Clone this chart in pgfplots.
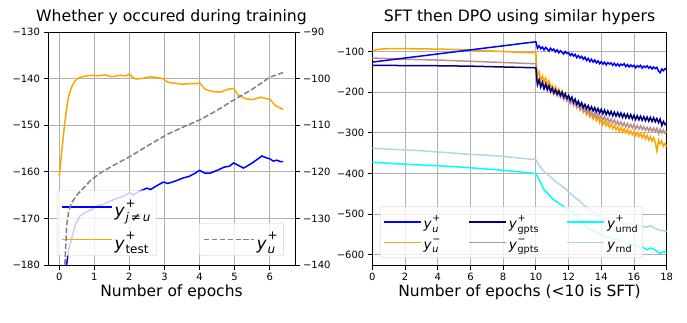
\documentclass[border=0pt]{standalone}
\usepackage{fontspec}
\setmainfont{DejaVu Sans}
\usepackage{pgfplots}
\pgfplotsset{compat=1.18}

\definecolor{mplorange}{RGB}{255,165,0}
\definecolor{navy}{RGB}{0,0,128}
\definecolor{rosybrown}{RGB}{188,143,143}
\definecolor{lightblue}{RGB}{173,216,230}
\definecolor{mplcyan}{RGB}{0,255,255}
\definecolor{mplblue}{RGB}{0,0,255}
\definecolor{gridgray}{RGB}{176,176,176}
\definecolor{mplgray}{RGB}{128,128,128}
\definecolor{legborder}{RGB}{204,204,204}

% y with stacked super/subscript
\newcommand{\ysym}[5]{\textit{y}\kern0.04em\begingroup\fontsize{#1}{#1}\selectfont
\setbox0=\hbox{#4}\setbox2=\hbox{#5}%
\dimen0=\wd0 \ifdim\wd2>\dimen0 \dimen0=\wd2\fi
\rlap{\raisebox{#2}{\box0}}\rlap{\raisebox{#3}{\box2}}\kern\dimen0\endgroup}
\newcommand{\yL}[2]{\rule[-8pt]{0pt}{29pt}\ysym{12}{9.5pt}{-4.5pt}{#1}{#2}}
\newcommand{\yR}[2]{\rule[-6pt]{0pt}{21pt}\ysym{9.6}{7pt}{-3.5pt}{#1}{#2}}

\pgfplotsset{
  mpl/.style={
    scale only axis,
    axis line style={line width=0.8pt},
    every tick/.style={black, line width=0.8pt},
    tick align=outside,
    major tick length=4.5pt,
    ticklabel style={font=\fontsize{10}{12}\selectfont},
    /pgf/number format/assume math mode=true,
    title style={font=\fontsize{15.7}{17}\selectfont, at={(0.5,1)}, anchor=base, yshift=5pt},
    xlabel style={font=\fontsize{15.5}{17}\selectfont, at={(0.5,0)}, anchor=north, inner sep=0pt, yshift=-19.5pt},
    legend cell align=left,
  }
}

\begin{document}
\begin{tikzpicture}[x=1pt,y=1pt]
\path[use as bounding box] (0,0) rectangle (687,322);

% ---------------- left plot, left y axis ----------------
\begin{axis}[mpl,
  at={(48pt,57pt)}, anchor=south west,
  width=247pt, height=233pt,
  xmin=-0.32, xmax=6.72, ymin=-180, ymax=-130,
  xtick={0,1,2,3,4,5,6},
  ytick={-180,-170,-160,-150,-140,-130},
  yticklabels={−180,−170,−160,−150,−140,−130},
  tick pos=left,
  grid=major, grid style={gridgray, line width=0.8pt},
  title={Whether y occured during training},
  xlabel={Number of epochs},
  legend image code/.code={\draw[#1] (0pt,0pt) -- (36pt,0pt); \path (0pt,0pt) -- (50pt,0pt);},
  legend style={at={(0.036,0.039)}, anchor=south west, draw=legborder,
    fill=white, fill opacity=0.8, text opacity=1, rounded corners=2pt,
    font=\fontsize{17}{17}\selectfont, row sep=6pt, inner xsep=4pt, inner ysep=3pt},
]
\addplot[mplblue, line width=1.5pt] coordinates {
(0.12,-195) (0.21,-180) (0.27,-176.5) (0.35,-174.5) (0.45,-171.5) (0.59,-169.5) (0.75,-168.7)
(0.93,-168.1) (1.1,-167.2) (1.25,-167) (1.45,-166.3) (1.6,-165.8) (1.8,-165.3) (2.02,-164.5)
(2.1,-165) (2.25,-164.3) (2.5,-163.5) (2.6,-163.8) (2.8,-162.9) (2.97,-162.2) (3.1,-162.5)
(3.3,-162) (3.54,-161.3) (3.7,-161) (3.85,-160.4) (4.0,-159.7) (4.15,-160.3) (4.3,-160.3)
(4.5,-159.7) (4.7,-159) (4.85,-158.8) (4.97,-158.1) (5.1,-158.6) (5.25,-159.2) (5.35,-158.8)
(5.5,-158.1) (5.65,-157.3) (5.78,-156.6) (5.9,-157) (6.0,-157.2) (6.1,-157.7) (6.2,-157.5)
(6.3,-157.8) (6.38,-157.8)};
\addlegendentry{\yL{+}{\textit{j}\,≠\,\textit{u}}}
\addplot[mplorange, line width=1.5pt] coordinates {
(0,-161) (0.08,-155) (0.15,-150) (0.22,-146) (0.26,-144) (0.35,-141.8) (0.45,-140.5)
(0.54,-139.9) (0.7,-139.5) (0.9,-139.3) (1.1,-139.4) (1.3,-139.2) (1.5,-139.6) (1.7,-139.3)
(1.9,-139.4) (2.0,-139.0) (2.1,-139.8) (2.2,-140.1) (2.4,-139.9) (2.6,-139.6) (2.8,-139.8)
(2.95,-140.0) (3.1,-140.8) (3.3,-141.0) (3.5,-141.2) (3.7,-141.1) (3.9,-141.1) (4.0,-140.9)
(4.1,-141.8) (4.16,-142.3) (4.4,-142.8) (4.6,-142.9) (4.8,-142.3) (4.97,-142.1) (5.1,-143.5)
(5.3,-144.3) (5.5,-144.5) (5.75,-144.0) (5.9,-144.3) (6.0,-144.4) (6.16,-145.8) (6.3,-146.3)
(6.38,-146.6)};
\addlegendentry{\yL{+}{test}}
\end{axis}

% ---------------- left plot, right y axis ----------------
\begin{axis}[mpl,
  at={(48pt,57pt)}, anchor=south west,
  width=247pt, height=233pt,
  xmin=-0.32, xmax=6.72, ymin=-140, ymax=-90,
  axis x line=none, axis y line*=right,
  ytick={-140,-130,-120,-110,-100,-90},
  yticklabels={−140,−130,−120,−110,−100,−90},
  legend image code/.code={\draw[#1] (0pt,0pt) -- (36pt,0pt); \path (0pt,0pt) -- (50pt,0pt);},
  legend style={at={(0.955,0.039)}, anchor=south east, draw=legborder,
    fill=white, fill opacity=0.8, text opacity=1, rounded corners=2pt,
    font=\fontsize{17}{17}\selectfont, inner xsep=4pt, inner ysep=3pt},
]
\addplot[mplgray, line width=1.5pt, dash pattern=on 5.5pt off 2.4pt] coordinates {
(0.12,-145) (0.16,-140) (0.21,-131.7) (0.27,-128.5) (0.35,-126.7) (0.5,-125) (0.69,-123.5)
(0.9,-121.8) (1.16,-120.3) (1.5,-118.8) (2.02,-116.7) (2.5,-114.5) (3.07,-112) (3.5,-110.5)
(4.02,-108.8) (4.5,-106.8) (4.97,-104.6) (5.5,-102.3) (6.0,-99.7) (6.38,-98.7)};
\addlegendentry{\yL{+}{\textit{u}}}
\end{axis}

% ---------------- right plot ----------------
\begin{axis}[mpl,
  at={(372.3pt,57pt)}, anchor=south west,
  width=294.4pt, height=233pt,
  xmin=0, xmax=18, ymin=-625, ymax=-52,
  xtick={0,2,4,6,8,10,12,14,16,18},
  ytick={-600,-500,-400,-300,-200,-100},
  yticklabels={−600,−500,−400,−300,−200,−100},
  tick pos=left,
  grid=major, grid style={gridgray, line width=0.8pt},
  title={SFT then DPO using similar hypers},
  xlabel={Number of epochs (<10 is SFT)},
  legend columns=3,
  legend image code/.code={\draw[#1] (0pt,0pt) -- (29pt,0pt); \path (0pt,0pt) -- (37pt,0pt);},
  legend style={at={(0.026,0.03)}, anchor=south west, draw=legborder,
    fill=white, fill opacity=0.8, text opacity=1, rounded corners=2pt,
    font=\fontsize{13.5}{13.5}\selectfont, row sep=0pt, inner xsep=3pt, inner ysep=5pt,
    /tikz/every even column/.append style={column sep=26pt}},
]
% legend entries (row-major, to match matplotlib's column-major layout)
\addlegendimage{mplblue, line width=1.5pt}
\addlegendentry{\yR{+}{\textit{u}}}
\addlegendimage{navy, line width=1.5pt}
\addlegendentry{\yR{+}{gpts}}
\addlegendimage{mplcyan, line width=1.5pt}
\addlegendentry{\yR{+}{urnd}}
\addlegendimage{mplorange, line width=1.5pt}
\addlegendentry{\yR{−}{\textit{u}}}
\addlegendimage{rosybrown, line width=1.5pt}
\addlegendentry{\yR{−}{gpts}}
\addlegendimage{lightblue, line width=1.5pt}
\addlegendentry{\yR{}{rnd}}

\addplot[mplorange, line width=1.5pt, forget plot] coordinates {
(0,-100) (0.2,-96) (0.5,-94) (1,-93) (2,-93) (3,-93.5) (4,-94) (5,-95) (6,-96.5) (7,-98)
(8,-100) (9,-102) (10.0,-103)
(10.05,-140) (10.1,-160) (10.2,-150) (10.3,-172) (10.4,-160) (10.5,-175) (10.6,-165) (10.7,-182)
(10.8,-172) (10.9,-188) (11.0,-183) (11.1,-195) (11.2,-186) (11.3,-200) (11.4,-192) (11.5,-205)
(11.6,-197) (11.7,-210) (11.8,-203) (11.9,-218) (12.0,-210) (12.1,-224) (12.2,-215) (12.3,-230)
(12.4,-222) (12.5,-237) (12.6,-228) (12.7,-243) (12.8,-236) (12.9,-250) (13.0,-243) (13.1,-256)
(13.2,-248) (13.3,-261) (13.4,-253) (13.5,-266) (13.6,-257) (13.7,-270) (13.8,-262) (13.9,-275)
(14.0,-266) (14.1,-280) (14.2,-271) (14.3,-283) (14.4,-275) (14.5,-287) (14.6,-279) (14.7,-290)
(14.8,-282) (14.9,-293) (15.0,-285) (15.1,-296) (15.2,-288) (15.3,-298) (15.4,-290) (15.5,-300)
(15.6,-292) (15.7,-303) (15.8,-295) (15.9,-305) (16.0,-297) (16.1,-307) (16.2,-299) (16.3,-309)
(16.4,-301) (16.5,-312) (16.6,-303) (16.7,-315) (16.8,-306) (16.9,-318) (17.0,-309) (17.1,-320)
(17.2,-312) (17.3,-324) (17.4,-345) (17.5,-318) (17.6,-328) (17.7,-320) (17.8,-333) (17.9,-326)
(18.0,-334)};
\addplot[rosybrown, line width=1.5pt, forget plot] coordinates {
(0,-116) (2,-119) (4,-121) (6,-124) (8,-127) (10.0,-130)
(10.05,-158) (10.1,-178) (10.2,-168) (10.3,-186) (10.4,-175) (10.5,-190) (10.6,-180) (10.7,-195)
(10.8,-186) (10.9,-200) (11.0,-192) (11.1,-205) (11.2,-197) (11.3,-209) (11.4,-201) (11.5,-213)
(11.6,-205) (11.7,-218) (11.8,-210) (11.9,-222) (12.0,-214) (12.1,-228) (12.2,-219) (12.3,-233)
(12.4,-225) (12.5,-238) (12.6,-230) (12.7,-243) (12.8,-235) (12.9,-247) (13.0,-240) (13.1,-251)
(13.2,-244) (13.3,-255) (13.4,-248) (13.5,-259) (13.6,-251) (13.7,-262) (13.8,-254) (13.9,-265)
(14.0,-257) (14.1,-268) (14.2,-260) (14.3,-271) (14.4,-263) (14.5,-274) (14.6,-266) (14.7,-276)
(14.8,-268) (14.9,-279) (15.0,-271) (15.1,-281) (15.2,-273) (15.3,-283) (15.4,-275) (15.5,-285)
(15.6,-277) (15.7,-287) (15.8,-279) (15.9,-288) (16.0,-280) (16.1,-290) (16.2,-282) (16.3,-291)
(16.4,-283) (16.5,-292) (16.6,-285) (16.7,-294) (16.8,-286) (16.9,-295) (17.0,-287) (17.1,-296)
(17.2,-288) (17.3,-297) (17.4,-289) (17.5,-302) (17.6,-291) (17.7,-300) (17.8,-293) (17.9,-301)
(18.0,-297)};
\addplot[navy, line width=1.5pt, forget plot] coordinates {
(0,-134) (2,-134.5) (4,-135) (6,-136) (8,-138) (10.0,-140)
(10.05,-165) (10.1,-182) (10.2,-170) (10.3,-188) (10.4,-176) (10.5,-192) (10.6,-180) (10.7,-194)
(10.8,-184) (10.9,-198) (11.0,-190) (11.1,-202) (11.2,-194) (11.3,-205) (11.4,-197) (11.5,-208)
(11.6,-200) (11.7,-212) (11.8,-204) (11.9,-216) (12.0,-208) (12.1,-220) (12.2,-212) (12.3,-225)
(12.4,-217) (12.5,-230) (12.6,-222) (12.7,-234) (12.8,-226) (12.9,-238) (13.0,-230) (13.1,-241)
(13.2,-233) (13.3,-244) (13.4,-236) (13.5,-246) (13.6,-238) (13.7,-249) (13.8,-240) (13.9,-251)
(14.0,-242) (14.1,-253) (14.2,-244) (14.3,-255) (14.4,-246) (14.5,-256) (14.6,-247) (14.7,-258)
(14.8,-249) (14.9,-259) (15.0,-250) (15.1,-260) (15.2,-251) (15.3,-262) (15.4,-253) (15.5,-263)
(15.6,-254) (15.7,-264) (15.8,-255) (15.9,-266) (16.0,-257) (16.1,-267) (16.2,-258) (16.3,-268)
(16.4,-259) (16.5,-269) (16.6,-260) (16.7,-270) (16.8,-261) (16.9,-271) (17.0,-262) (17.1,-272)
(17.2,-263) (17.3,-273) (17.4,-265) (17.5,-275) (17.6,-266) (17.7,-282) (17.8,-272) (17.9,-280)
(18.0,-276)};
\addplot[mplblue, line width=1.5pt, forget plot] coordinates {
(0,-126) (10.0,-76)
(10.1,-92) (10.2,-86) (10.3,-93) (10.4,-89) (10.5,-96) (10.6,-90) (10.7,-94) (10.8,-99)
(10.9,-92) (11.0,-97) (11.1,-94) (11.2,-101) (11.3,-96) (11.4,-103) (11.5,-98) (11.6,-102)
(11.7,-106) (11.8,-100) (11.9,-105) (12.0,-103) (12.1,-110) (12.2,-105) (12.3,-111) (12.4,-107)
(12.5,-115) (12.6,-110) (12.7,-116) (12.8,-112) (12.9,-119) (13.0,-114) (13.1,-122) (13.2,-117)
(13.3,-125) (13.4,-119) (13.5,-126) (13.6,-121) (13.7,-128) (13.8,-123) (13.9,-130) (14.0,-125)
(14.1,-131) (14.2,-126) (14.3,-133) (14.4,-127) (14.5,-131) (14.6,-128) (14.7,-134) (14.8,-129)
(14.9,-135) (15.0,-130) (15.1,-136) (15.2,-131) (15.3,-134) (15.4,-130) (15.5,-137) (15.6,-132)
(15.7,-138) (15.8,-133) (15.9,-137) (16.0,-134) (16.1,-140) (16.2,-135) (16.3,-138) (16.4,-134)
(16.5,-141) (16.6,-136) (16.7,-139) (16.8,-135) (16.9,-141) (17.0,-137) (17.1,-143) (17.2,-138)
(17.3,-142) (17.4,-139) (17.5,-148) (17.6,-152) (17.7,-143) (17.8,-147) (17.9,-142) (18.0,-145)};
\addplot[mplcyan, line width=1.5pt, forget plot] coordinates {
(0,-372) (1,-375) (2,-377) (3,-379) (4,-381) (5,-383) (6,-386) (7,-389) (8,-392) (9,-396)
(10,-400) (10.2,-415) (10.5,-440) (10.8,-452) (11.0,-462) (11.3,-470) (11.5,-476)
(11.8,-484) (12.0,-490) (12.3,-497) (12.5,-505) (12.8,-515) (13.0,-525) (13.3,-538)
(13.5,-541) (13.8,-547) (14.0,-550) (14.3,-555) (14.5,-557) (14.8,-561) (15.0,-563)
(15.3,-567) (15.5,-570) (15.8,-573) (16.0,-575) (16.3,-579) (16.5,-580) (16.8,-588)
(17.0,-583) (17.3,-588) (17.6,-597) (17.8,-592) (18.0,-595)};
\addplot[lightblue, line width=1.5pt, forget plot] coordinates {
(0,-338) (1,-340) (2,-342) (3,-344) (4,-347) (5,-350) (6,-353) (7,-355) (8,-358) (9,-362)
(10,-366) (10.2,-380) (10.5,-395) (10.8,-405) (11.0,-412) (11.3,-423) (11.5,-428)
(11.8,-437) (12.0,-445) (12.3,-456) (12.5,-462) (12.8,-472) (13.0,-480) (13.3,-489)
(13.5,-495) (13.8,-502) (14.0,-507) (14.3,-513) (14.5,-515) (14.8,-517) (15.0,-518)
(15.3,-521) (15.5,-522) (15.8,-525) (16.0,-526) (16.3,-529) (16.5,-530) (16.8,-532)
(17.0,-528) (17.3,-535) (17.6,-540) (17.8,-541) (18.0,-542)};
\end{axis}
\end{tikzpicture}
\end{document}
